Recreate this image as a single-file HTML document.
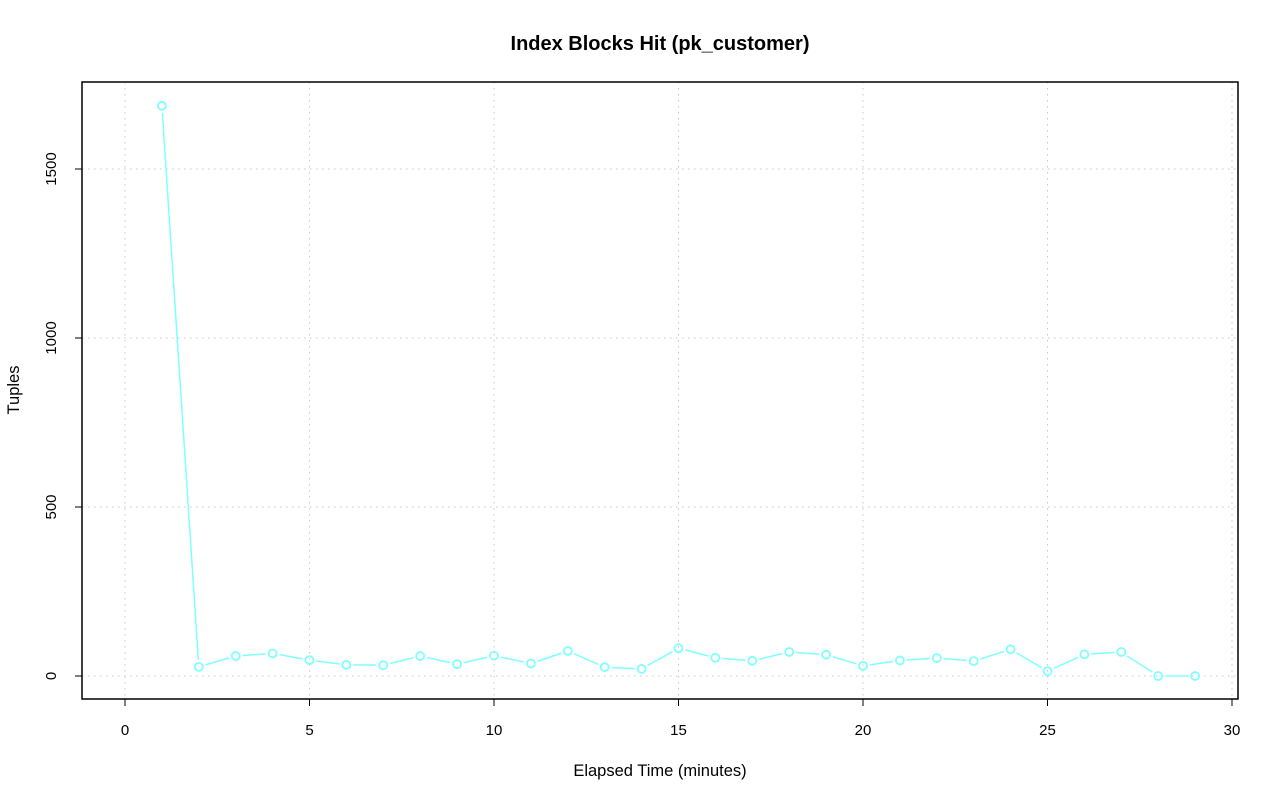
<!DOCTYPE html>
<html><head><meta charset="utf-8"><style>
html,body{margin:0;padding:0;background:#fff}
svg{display:block;font-family:"Liberation Sans",Arial,sans-serif}
</style></head><body>
<svg id="chart" width="1280" height="801">
<text x="660" y="50" text-anchor="middle" font-size="20" font-weight="bold">Index Blocks Hit (pk_customer)</text>
<text x="660" y="776" text-anchor="middle" font-size="16.5">Elapsed Time (minutes)</text>
<text x="19" y="390" text-anchor="middle" font-size="16.5" transform="rotate(-90 19 390)">Tuples</text>
<g id="grid"></g><g id="axes"></g><g id="series"></g>
<rect x="82" y="82" width="1156" height="617" fill="none" stroke="#000" stroke-width="1.5"/>
</svg>
<script>
const xValues=[1,2,3,4,5,6,7,8,9,10,11,12,13,14,15,16,17,18,19,20,21,22,23,24,25,26,27,28,29];
const yValues=[1687,27,59,67,47,33,32,59,35,60,37,74,26,21,82,54,45,71,63,30,46,53,44,79,14,64,71,0,0];
const xTicks=[0,5,10,15,20,25,30];
const yTicks=[0,500,1000,1500];
const NS="http://www.w3.org/2000/svg";
const X=v=>125+v*(1232-125)/30;
const Y=v=>676-v*(676-169)/1500;
function mk(tag,attrs,parent){const e=document.createElementNS(NS,tag);for(const k in attrs)e.setAttribute(k,attrs[k]);parent.appendChild(e);return e;}
const grid=document.getElementById('grid'),axes=document.getElementById('axes'),series=document.getElementById('series');
xTicks.forEach(t=>{
 const g=mk('line',{x1:X(t),x2:X(t),y1:82,y2:699,stroke:'#c8c8c8','stroke-dasharray':'1.5,4.5'},grid);
 
 
 const l=mk('line',{x1:X(t),x2:X(t),y1:699,y2:706,stroke:'#000'},axes);
 
 
 const tx=mk('text',{x:X(t),y:735,'text-anchor':'middle','font-size':'15'},axes);
 tx.textContent=t;
 
 
});
yTicks.forEach(t=>{
 const g=mk('line',{x1:82,x2:1238,y1:Y(t),y2:Y(t),stroke:'#c8c8c8','stroke-dasharray':'1.5,4.5'},grid);
 
 
 const l=mk('line',{x1:75,x2:82,y1:Y(t),y2:Y(t),stroke:'#000'},axes);
 
 
 const tx=mk('text',{x:56,y:Y(t),'text-anchor':'middle','font-size':'15',transform:`rotate(-90 56 ${Y(t)})`},axes);
 tx.textContent=t;
 
 
});
const r=4,gap=7;
for(let i=0;i<xValues.length-1;i++){
 const x1=X(xValues[i]),y1=Y(yValues[i]),x2=X(xValues[i+1]),y2=Y(yValues[i+1]);
 const d=Math.hypot(x2-x1,y2-y1);if(d<=2*gap)continue;
 const ux=(x2-x1)/d,uy=(y2-y1)/d;
 const s=mk('line',{x1:x1+ux*gap,y1:y1+uy*gap,x2:x2-ux*gap,y2:y2-uy*gap,stroke:'#7fffff','stroke-width':'1.5'},series);
 
 
}
xValues.forEach((v,i)=>{
 const c=mk('circle',{cx:X(v),cy:Y(yValues[i]),r:r,fill:'none',stroke:'#7fffff','stroke-width':'1.8'},series);
 
 
});
</script>
</body></html>
